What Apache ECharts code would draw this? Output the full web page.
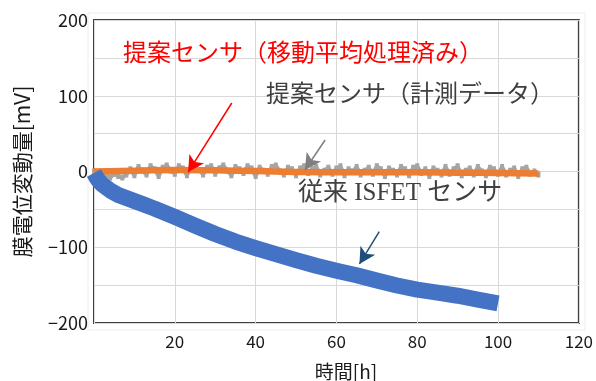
<!DOCTYPE html>
<html>
<head>
<meta charset="utf-8">
<script src="https://cdn.jsdelivr.net/npm/echarts@6/dist/echarts.min.js"></script>
<style>
html,body{margin:0;padding:0;background:#fff;}
#c{width:596px;height:381px;}
</style>
</head>
<body>
<div id="c"></div>
<script>
// ---- data ----
var xTicks = [20, 40, 60, 80, 100, 120];
var yTicks = [-200, -100, 0, 100, 200];

// 従来 ISFET センサ (blue)
var blueT = [0, 0.5, 1, 1.5, 2, 3, 4, 5, 6, 8, 10, 12, 15, 20, 25, 30, 35, 40, 45, 50, 55, 60, 65, 70, 75, 80, 85, 90, 95, 100];
var blueV = [-2, -7, -11, -14, -17, -21, -25, -28, -31, -35, -39, -43, -49, -60, -71.5, -82.5, -92.5, -101, -109, -117, -124.5, -131, -137, -144, -150.5, -156, -160, -164, -169, -174];

// 提案センサ（計測データ） gray, one value per hour from 0 h to 110 h
var grayV = [0,-5,-7,-4,-8,-3,-6,-8,-4,3,
  -5,6,1,-4,7,3,-6,5,8,1,
  -3,7,4,-5,6,8,2,-4,5,7,
  -3,4,8,1,-5,6,3,-2,7,4,
  -6,5,1,-3,6,8,0,-4,5,3,
  -5,4,7,-2,3,6,-4,1,5,-3,
  4,7,-5,3,0,6,-4,1,5,-3,
  7,3,-6,4,1,-4,6,3,-5,5,
  7,-2,3,-6,4,1,-4,6,-3,3,
  7,-5,1,4,-4,6,0,-5,5,3,
  -3,6,-4,1,4,-6,3,5,-3,0,
  -4];

// 提案センサ（移動平均処理済み） orange
var orangeT = [0, 10, 20, 30, 40, 50, 60, 70, 80, 90, 100, 110];
var orangeV = [0, 1, 2, 1.5, 0.5, -0.5, -1, -1, -1, -1.5, -2, -2.5];

// annotation arrows (data coordinates: [from, to])
var redArrow = [[34.1, 90.4], [23.3, -0.7]];
var grayArrow = [[57.2, 41.6], [52.2, 2]];
var blueArrow = [[70.6, -79.5], [65.7, -122]];

var labelRed = '提案センサ（移動平均処理済み）';
var labelGray = '提案センサ（計測データ）';
var labelBlue = '従来 ISFET センサ';
var xName = '時間[h]';
var yName = '膜電位変動量[mV]';

// ---- build ----
function zip(t, v) { return t.map(function (x, i) { return [x, v[i]]; }); }
var grayData = grayV.map(function (v, i) { return [i, v]; });

var chart = echarts.init(document.getElementById('c'), null, {renderer: 'canvas'});
var FONT = '"Noto Sans CJK JP", "Noto Sans", sans-serif';

function arrowItem(a, color) {
  return [
    {coord: a[0], lineStyle: {color: color, width: 1.5, type: 'solid'}},
    {coord: a[1]}
  ];
}

chart.setOption({
  animation: false,
  backgroundColor: '#ffffff',
  grid: {left: 94, right: 17, top: 20, bottom: 58, show: true, borderColor: '#404040', borderWidth: 2, backgroundColor: 'transparent'},
  xAxis: {
    type: 'value', min: 0, max: 120, interval: 20,
    axisLine: {show: false}, axisTick: {show: false},
    splitLine: {show: true, lineStyle: {color: '#d9d9d9', width: 1}},
    axisLabel: {
      margin: 10, fontSize: 17, color: '#1a1a1a', fontFamily: FONT,
      formatter: function (v) { return xTicks.indexOf(v) >= 0 ? String(v) : ''; }
    }
  },
  yAxis: {
    type: 'value', min: -200, max: 200, interval: 50,
    axisLine: {show: false}, axisTick: {show: false},
    splitLine: {show: true, lineStyle: {color: '#d9d9d9', width: 1}},
    axisLabel: {
      margin: 6, fontSize: 18, color: '#1a1a1a', fontFamily: FONT,
      formatter: function (v) {
        if (yTicks.indexOf(v) < 0) return '';
        return v < 0 ? '\u2212' + Math.abs(v) : String(v);
      }
    }
  },
  series: [
    {
      type: 'line', data: grayData, showSymbol: true, symbol: 'rect', symbolSize: [4, 6], clip: false,
      itemStyle: {color: '#a5a5a5'},
      lineStyle: {color: '#a5a5a5', width: 4, join: 'bevel'}, z: 2
    },
    {
      type: 'line', data: zip(orangeT, orangeV), showSymbol: false, smooth: true, clip: false,
      lineStyle: {color: '#ed7d31', width: 6.5}, z: 3,
      markLine: {
        silent: true, animation: false,
        symbol: ['none', 'arrow'], symbolSize: [13, 16],
        label: {show: false},
        data: [
          arrowItem(redArrow, '#ff0000'),
          arrowItem(grayArrow, '#7f7f7f'),
          arrowItem(blueArrow, '#1f4e79')
        ]
      }
    },
    {
      type: 'line', data: zip(blueT, blueV), showSymbol: false, smooth: false, clip: false,
      lineStyle: {color: '#4472c4', width: 16, cap: 'butt', join: 'round'}, z: 4
    }
  ],
  graphic: [
    {type: 'rect', shape: {x: 88, y: 13, width: 497, height: 317}, style: {fill: 'none', stroke: '#ededed', lineWidth: 1}, z: -1, silent: true},
    {type: 'text', x: 123, y: 52, style: {text: labelRed, fill: '#ff0000', font: '24px ' + FONT, textVerticalAlign: 'middle'}, z: 10},
    {type: 'text', x: 266, y: 93, style: {text: labelGray, fill: '#404040', font: '24px ' + FONT, textVerticalAlign: 'middle'}, z: 10},
    {type: 'text', x: 298, y: 193, style: {text: labelBlue, fill: '#404040', font: '25px "Liberation Serif", "Noto Sans CJK JP", serif', textVerticalAlign: 'middle'}, z: 10},
    {type: 'text', x: 346, y: 372, style: {text: xName, fill: '#1a1a1a', font: '19px ' + FONT, textAlign: 'center', textVerticalAlign: 'middle'}, z: 10},
    {type: 'text', x: 22, y: 171.5, rotation: Math.PI / 2, style: {text: yName, fill: '#1a1a1a', font: '21px ' + FONT, textAlign: 'center', textVerticalAlign: 'middle'}, z: 10}
  ]
});
</script>
</body>
</html>
